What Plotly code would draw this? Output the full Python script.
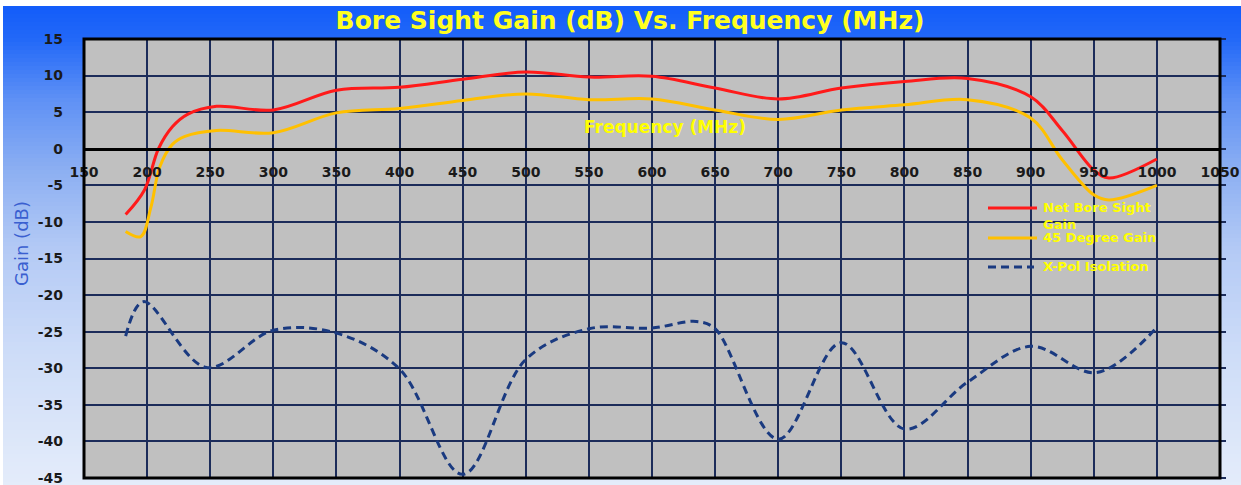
import plotly.graph_objects as go

# ---- measured data (frequency in MHz, levels in dB) ----
freq_net = [183, 198, 209, 220, 232, 255, 300, 350, 400, 450, 500, 550, 600,
            650, 700, 750, 800, 850, 900, 925, 950, 962, 1000]
net_bore_sight_gain = [-9.0, -5.6, 0.0, 3.0, 4.7, 5.8, 5.3, 8.0, 8.4, 9.5, 10.5,
                       9.8, 9.9, 8.3, 6.8, 8.3, 9.2, 9.6, 7.1, 2.5, -2.9, -4.0, -1.4]

freq_45 = [183, 195, 203, 210, 220, 230, 255, 300, 350, 400, 450, 500, 550, 600,
           650, 700, 750, 800, 850, 900, 925, 950, 962, 1000]
gain_45_degree = [-11.3, -12.0, -8.0, -2.5, 0.6, 1.7, 2.5, 2.2, 4.9, 5.5, 6.6, 7.5,
                  6.7, 6.8, 5.3, 4.0, 5.3, 6.0, 6.7, 4.2, -1.5, -6.3, -7.0, -5.0]

freq_xpol = [183, 197, 247, 300, 350, 400, 450, 500, 550, 600, 635, 650, 700,
             750, 800, 850, 900, 952, 1000]
x_pol_isolation = [-25.6, -20.9, -29.9, -24.8, -25.2, -30.1, -44.5, -28.8, -24.6,
                   -24.5, -23.6, -24.6, -39.7, -26.5, -38.3, -31.9, -27.0, -30.6, -24.4]

series_names = ["Net Bore Sight<br>Gain", "45 Degree Gain", "X-Pol Isolation"]
series_colors = ["#ff1a1a", "#ffc000", "#1a3a80"]
series_dash = ["solid", "solid", "8px,5px"]

x_ticks = list(range(150, 1051, 50))
y_ticks = list(range(-45, 16, 5))

title_text = "Bore Sight Gain (dB) Vs. Frequency (MHz)"
x_title = "Frequency (MHz)"
y_title = "Gain (dB)"

# ---- page geometry ----
W, H = 1241, 485
ML, MR, MT, MB = 84, 21, 39, 7
PW, PH = W - ML - MR, H - MT - MB


def px_to_paper_x(px):
    return (px - ML) / PW


def px_to_paper_y(py):
    return (H - MB - py) / PH


# vertical blue backdrop gradient, built as thin bands
stops = [(6, (18, 92, 250)), (40, (35, 105, 248)), (100, (95, 145, 245)),
         (170, (140, 175, 242)), (250, (180, 202, 245)), (350, (205, 220, 248)),
         (485, (228, 236, 250))]


def grad_color(py):
    for (y0, c0), (y1, c1) in zip(stops[:-1], stops[1:]):
        if y0 <= py <= y1:
            t = (py - y0) / (y1 - y0)
            return "rgb(%d,%d,%d)" % tuple(round(a + (b - a) * t) for a, b in zip(c0, c1))
    return "rgb(%d,%d,%d)" % stops[-1][1]


shapes = []
band = 4
for top in range(6, H, band):
    bottom = min(top + band, H)
    shapes.append(dict(type="rect", xref="paper", yref="paper", layer="below",
                       x0=px_to_paper_x(3), x1=px_to_paper_x(W),
                       y0=px_to_paper_y(bottom), y1=px_to_paper_y(top),
                       fillcolor=grad_color(top + band / 2), line=dict(width=0)))
# grey plotting area
shapes.append(dict(type="rect", xref="paper", yref="paper", layer="below",
                   x0=0, x1=1, y0=0, y1=1, fillcolor="#c0c0c0", line=dict(width=0)))
# black frame
shapes.append(dict(type="rect", xref="paper", yref="paper", layer="above",
                   x0=0, x1=1, y0=0, y1=1, fillcolor="rgba(0,0,0,0)",
                   line=dict(color="black", width=3)))

fig = go.Figure()
for fx, fy, name, color, dash in zip([freq_net, freq_45, freq_xpol],
                                     [net_bore_sight_gain, gain_45_degree, x_pol_isolation],
                                     series_names, series_colors, series_dash):
    fig.add_trace(go.Scatter(x=fx, y=fy, name=name.replace("<br>", " "), mode="lines",
                             showlegend=False,
                             line=dict(color=color, width=3, dash=dash,
                                       shape="spline", smoothing=1.0)))
# helper trace so the right-hand tick axis is drawn
fig.add_trace(go.Scatter(x=[x_ticks[0]], y=[None], yaxis="y2", mode="lines",
                         showlegend=False, hoverinfo="skip"))

# key in the upper right of the plotting area
legend_font = dict(family="DejaVu Sans", size=13, color="#ffff00", weight="bold")
annotations = []
key_rows = [208, 238, 267]
for row, name, color, dash in zip(key_rows, series_names, series_colors, series_dash):
    shapes.append(dict(type="line", xref="paper", yref="paper", layer="above",
                       x0=px_to_paper_x(988), x1=px_to_paper_x(1037 if dash == "solid" else 1034),
                       y0=px_to_paper_y(row), y1=px_to_paper_y(row),
                       line=dict(color=color, width=3, dash=dash)))
    annotations.append(dict(text=name, x=px_to_paper_x(1041), y=px_to_paper_y(row - 10),
                            xref="paper", yref="paper", xanchor="left", yanchor="top",
                            align="left", showarrow=False, font=legend_font))

annotations += [
    dict(text=x_title, x=610, y=3, xref="x", yref="y", showarrow=False,
         font=dict(family="DejaVu Sans", size=17, color="#ffff00", weight="bold")),
    dict(text=y_title, x=px_to_paper_x(21), y=px_to_paper_y(244), xref="paper",
         yref="paper", showarrow=False, textangle=-90, xanchor="center", yanchor="middle",
         font=dict(family="DejaVu Sans", size=18, color="#3a5fd0")),
]

tick_font = dict(family="DejaVu Sans", size=14, color="#1a1a1a", weight="bold")
grid_color = "#1c2c5a"

fig.update_layout(
    width=W, height=H,
    margin=dict(l=ML, r=MR, t=MT, b=MB),
    paper_bgcolor="white",
    plot_bgcolor="rgba(0,0,0,0)",
    shapes=shapes,
    annotations=annotations,
    showlegend=False,
    title=dict(text=title_text, x=px_to_paper_x(630), xref="paper", xanchor="center",
               y=1 - 20 / H, yref="container", yanchor="middle",
               font=dict(family="DejaVu Sans", size=25, color="#ffff20", weight="bold")),
    xaxis=dict(range=[x_ticks[0], x_ticks[-1]], tickvals=x_ticks,
               ticktext=[str(v) for v in x_ticks],
               anchor="free", position=(0 - y_ticks[0]) / (y_ticks[-1] - y_ticks[0]),
               showline=True, linecolor="black", linewidth=3,
               showgrid=True, gridcolor=grid_color, gridwidth=2,
               zeroline=False, ticks="", tickfont=tick_font, ticklabelstandoff=9,
               ticklabeloverflow="allow", automargin=False),
    yaxis=dict(range=[y_ticks[0], y_ticks[-1]], tickvals=y_ticks,
               ticktext=[str(v) for v in y_ticks],
               showgrid=True, gridcolor=grid_color, gridwidth=2,
               zeroline=False, showline=False, ticks="",
               tickfont=tick_font, ticklabelstandoff=20, ticklabeloverflow="allow",
               automargin=False),
    yaxis2=dict(range=[y_ticks[0], y_ticks[-1]], tickvals=y_ticks, overlaying="y",
                side="right", showgrid=False, zeroline=False, showticklabels=False,
                ticks="outside", ticklen=5, tickwidth=2, tickcolor=grid_color,
                automargin=False),
)

fig.write_html("out.html")
